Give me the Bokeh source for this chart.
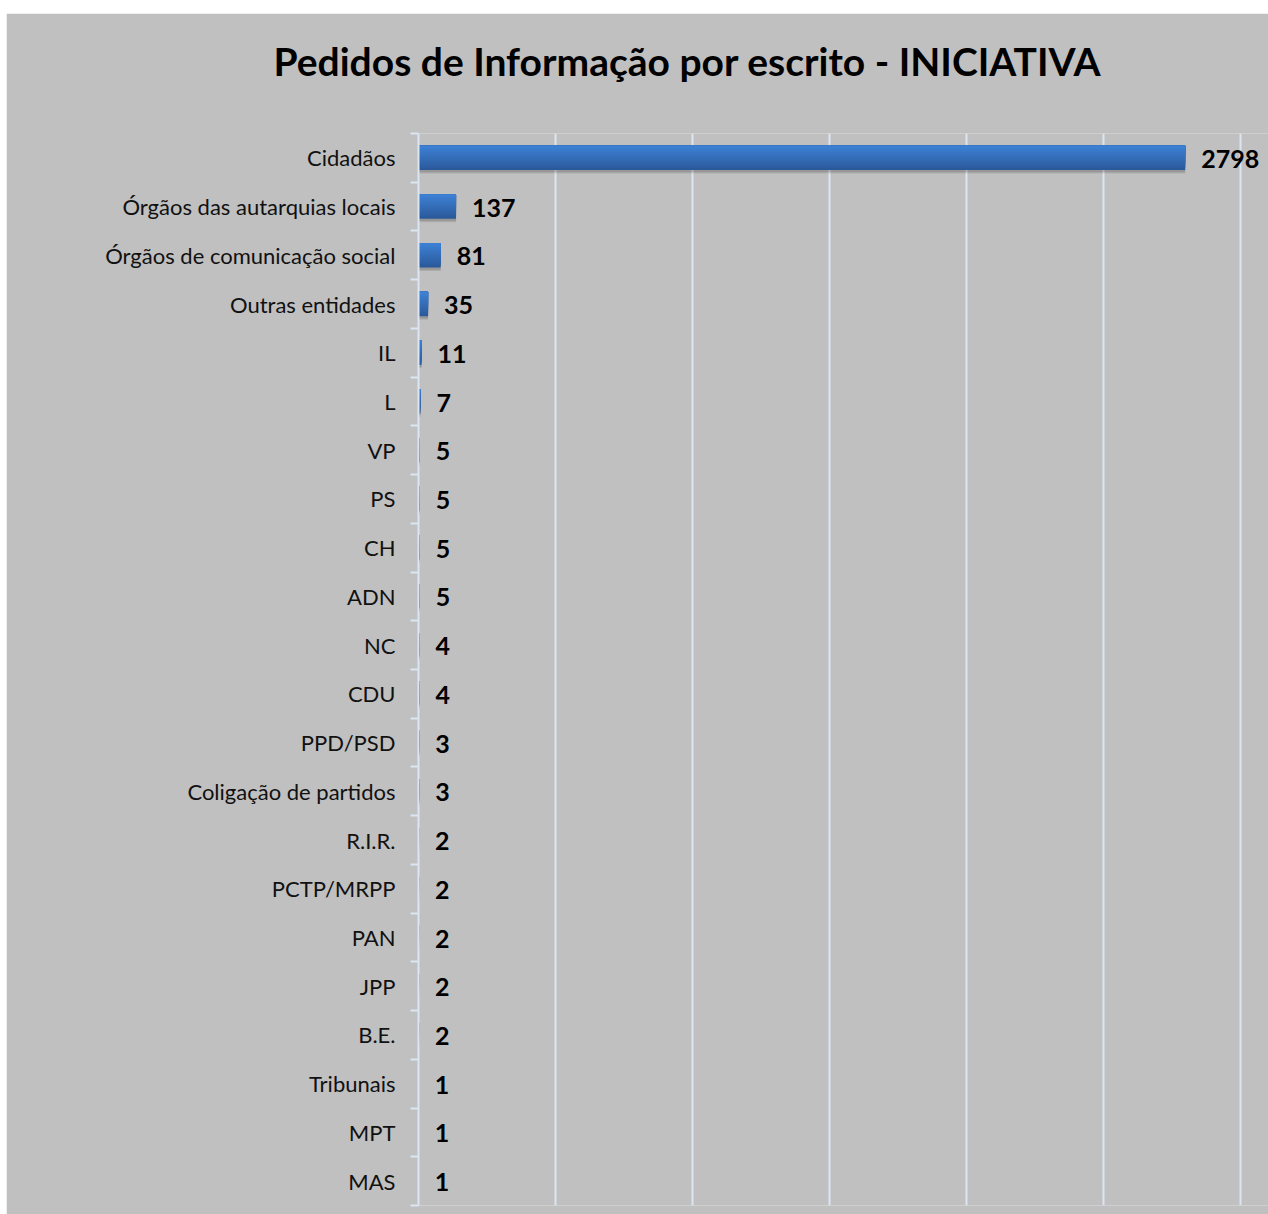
from bokeh.plotting import figure
from bokeh.models import Range1d, FixedTicker, ColumnDataSource, Spacer, Title
from bokeh.layouts import column, row
from bokeh.embed import file_html
from bokeh.resources import INLINE
from bokeh.core.properties import value

title_text = "Pedidos de Informação por escrito - INICIATIVA"
categories = ["Cidadãos", "Órgãos das autarquias locais", "Órgãos de comunicação social",
              "Outras entidades", "IL", "L", "VP", "PS", "CH", "ADN", "NC", "CDU",
              "PPD/PSD", "Coligação de partidos", "R.I.R.", "PCTP/MRPP", "PAN", "JPP",
              "B.E.", "Tribunais", "MPT", "MAS"]
values = [2798, 137, 81, 35, 11, 7, 5, 5, 5, 5, 4, 4, 3, 3, 2, 2, 2, 2, 2, 1, 1, 1]
grid_ticks = [0, 500, 1000, 1500, 2000, 2500, 3000]

BG = "#c0c0c0"
GRID = "#dce6f2"
FONT = "Lato"

n = len(categories)
idx = list(range(n))

p = figure(width=1262, height=1201, output_backend="svg", toolbar_location=None,
           x_range=Range1d(0, 3102), y_range=Range1d(n - 0.5, -0.5),
           min_border_left=412, min_border_right=0, min_border_top=120, min_border_bottom=9)
p.background_fill_color = BG
p.border_fill_color = BG
p.outline_line_color = None
p.xaxis.visible = False

# invisible spacer panel between the title and the plot frame
p.add_layout(Title(text=" ", text_font_size="1px", standoff=42), "above")

p.title.text = title_text
p.title.align = "left"
p.title.offset = -145
p.title.standoff = 10
p.title.text_font = FONT
p.title.text_font_style = "bold"
p.title.text_font_size = "39px"
p.title.text_color = "black"

p.xgrid.ticker = FixedTicker(ticks=grid_ticks)
p.xgrid.grid_line_color = GRID
p.xgrid.grid_line_width = 2
p.ygrid.grid_line_color = None

yax = p.yaxis[0]
yax.ticker = FixedTicker(ticks=idx, minor_ticks=[i - 0.5 for i in range(n + 1)])
yax.major_label_overrides = {i: c for i, c in enumerate(categories)}
yax.major_tick_out = 0
yax.major_tick_in = 0
yax.minor_tick_out = 8
yax.minor_tick_in = 0
yax.minor_tick_line_color = GRID
yax.minor_tick_line_width = 2
yax.axis_line_color = GRID
yax.axis_line_width = 2
yax.major_label_standoff = 15
yax.major_label_text_font = FONT
yax.major_label_text_font_size = "22px"
yax.major_label_text_color = "#111111"

# soft shadow
for off, a in [(0.07, 0.10), (0.045, 0.12)]:
    src = ColumnDataSource(dict(y=[i + off for i in idx], v=values))
    p.hbar(y="y", right="v", left=0, height=0.5, source=src,
           fill_color="black", fill_alpha=a, line_color=None)

# gradient bars (layered, anchored at the top edge)
N = 12
top = (0x3d, 0x80, 0xd4)
bot = (0x2b, 0x5a, 0x9b)
h = 0.5
for k in range(N):
    frac = (N - k) / N
    t = 1 - (k / (N - 1))
    col = "#%02x%02x%02x" % tuple(int(round(top[j] + (bot[j] - top[j]) * t)) for j in range(3))
    hh = h * frac
    ys = [i - h / 2 + hh / 2 for i in idx]
    p.hbar(y=ys, right=values, left=0, height=hh, fill_color=col, line_color=None)

# value labels
p.text(x=values, y=idx, text=[str(v) for v in values], x_offset=16, y_offset=1,
       text_font=value(FONT), text_font_style="bold", text_font_size="25px",
       text_baseline="middle", text_align="left", text_color="black")

layout = column(Spacer(height=13), row(Spacer(width=6), p))
open("out.html", "w").write(file_html(layout, INLINE))
